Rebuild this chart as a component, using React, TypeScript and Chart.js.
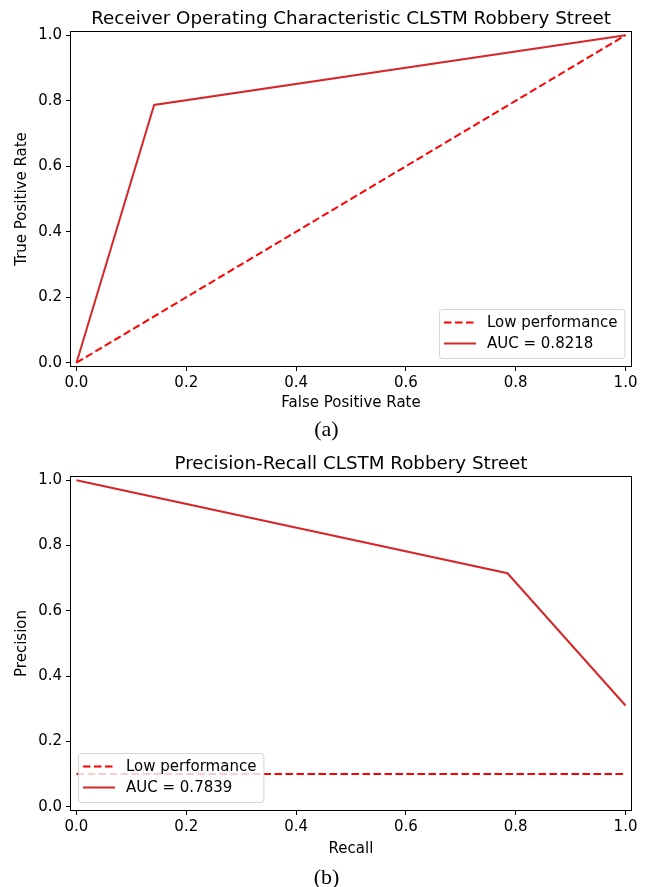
import React, { useEffect, useRef } from 'react';
import { Chart, registerables } from 'chart.js';

Chart.register(...registerables);

// ---- data ----
const tickValues = [0, 0.2, 0.4, 0.6, 0.8, 1.0];
const tickLabels = ['0.0', '0.2', '0.4', '0.6', '0.8', '1.0'];

const rocTitle = 'Receiver Operating Characteristic CLSTM Robbery Street';
const rocXLabel = 'False Positive Rate';
const rocYLabel = 'True Positive Rate';
const rocBaseX = [0, 1];
const rocBaseY = [0, 1];
const rocFpr = [0, 0.1414, 1];
const rocTpr = [0, 0.787, 1];
const rocBaseLabel = 'Low performance';
const rocCurveLabel = 'AUC = 0.8218';

const prTitle = 'Precision-Recall CLSTM Robbery Street';
const prXLabel = 'Recall';
const prYLabel = 'Precision';
const prBaseX = [0, 1];
const prBaseY = [0.1, 0.1];
const prRecall = [0, 0.785, 1];
const prPrecision = [1, 0.715, 0.31];
const prBaseLabel = 'Low performance';
const prCurveLabel = 'AUC = 0.7839';

const FONT = '"DejaVu Sans", sans-serif';
const DASH_RED = '#ff0000';
const CURVE_RED = '#d62728';
const LABEL_SIZE = 15;
const TITLE_SIZE = 18.3;

const pts = (xs: number[], ys: number[]) => xs.map((x, i) => ({ x, y: ys[i] }));

const mplPlugin = {
  id: 'mpl',
  afterDatasetsDraw(chart: any, _args: any, opts: any) {
    const { ctx, chartArea } = chart;
    ctx.save();
    // frame
    ctx.strokeStyle = '#000';
    ctx.lineWidth = 1;
    ctx.setLineDash([]);
    ctx.strokeRect(
      Math.round(chartArea.left) - 0.5,
      Math.round(chartArea.top) - 0.5,
      Math.round(chartArea.right) - Math.round(chartArea.left) + 1,
      Math.round(chartArea.bottom) - Math.round(chartArea.top) + 1
    );
    // legend
    ctx.font = `${LABEL_SIZE}px ${FONT}`;
    const ds = chart.data.datasets;
    const tw = Math.max(...ds.map((d: any) => ctx.measureText(d.label).width));
    const w = 48 + tw + 7;
    const h = 49;
    const inset = 7;
    const x = Math.round(opts.corner === 'lr' ? chartArea.right - inset - w : chartArea.left + inset);
    const y = Math.round(chartArea.bottom - inset - h) - 1;
    ctx.beginPath();
    if ((ctx as any).roundRect) (ctx as any).roundRect(x + 0.5, y + 0.5, w, h, 3);
    else ctx.rect(x + 0.5, y + 0.5, w, h);
    ctx.fillStyle = 'rgba(255,255,255,0.8)';
    ctx.fill();
    ctx.strokeStyle = 'rgba(204,204,204,0.8)';
    ctx.stroke();
    ds.forEach((d: any, i: number) => {
      const ry = y + 13.5 + i * 21;
      ctx.beginPath();
      ctx.strokeStyle = d.borderColor;
      ctx.lineWidth = d.borderWidth;
      ctx.setLineDash(d.borderDash || []);
      ctx.moveTo(x + 5, ry);
      ctx.lineTo(x + 37, ry);
      ctx.stroke();
      ctx.setLineDash([]);
      ctx.fillStyle = '#000';
      ctx.textBaseline = 'middle';
      ctx.textAlign = 'left';
      ctx.fillText(d.label, x + 48, ry + 0.5);
    });
    ctx.restore();
  },
};

type Spec = {
  title: string;
  xLabel: string;
  yLabel: string;
  baseX: number[];
  baseY: number[];
  curveX: number[];
  curveY: number[];
  baseLabel: string;
  curveLabel: string;
  corner: 'lr' | 'll';
  xAxisHeight: number;
  xTitlePad: number;
};

function makeChart(canvas: HTMLCanvasElement, s: Spec) {
  const setTicks = (scale: any) => {
    scale.ticks = tickValues.map((v) => ({ value: v }));
  };
  const tickFmt = (v: any) => {
    const i = tickValues.findIndex((t) => Math.abs(t - v) < 1e-9);
    return i >= 0 ? tickLabels[i] : '';
  };
  const gridOpts = {
    display: true,
    drawOnChartArea: false,
    drawTicks: true,
    tickLength: 5,
    tickWidth: 1,
    tickColor: '#000',
    lineWidth: 1,
  };
  return new Chart(canvas, {
    type: 'line',
    data: {
      datasets: [
        {
          label: s.baseLabel,
          data: pts(s.baseX, s.baseY),
          borderColor: DASH_RED,
          borderWidth: 2,
          borderDash: [7.5, 3.5],
          pointRadius: 0,
          tension: 0,
          fill: false,
        },
        {
          label: s.curveLabel,
          data: pts(s.curveX, s.curveY),
          borderColor: CURVE_RED,
          borderWidth: 2,
          pointRadius: 0,
          tension: 0,
          fill: false,
        },
      ],
    },
    options: {
      animation: false,
      responsive: false,
      devicePixelRatio: 1,
      layout: { padding: { left: 0, right: 20, top: 0, bottom: 0 } },
      plugins: {
        legend: { display: false },
        tooltip: { enabled: false },
        title: {
          display: true,
          text: s.title,
          fullSize: false,
          color: '#000',
          font: { family: FONT, size: TITLE_SIZE, weight: 'normal', lineHeight: 1.2 },
          padding: { top: 8.2, bottom: 1.8 },
        },
        mpl: { corner: s.corner },
      } as any,
      scales: {
        x: {
          type: 'linear',
          min: -0.01,
          max: 1.01,
          afterBuildTicks: setTicks,
          afterFit: (scale: any) => {
            scale.height = s.xAxisHeight;
          },
          border: { display: false },
          grid: gridOpts,
          ticks: {
            autoSkip: false,
            maxRotation: 0,
            padding: 3,
            color: '#000',
            font: { family: FONT, size: LABEL_SIZE },
            callback: tickFmt,
          },
          title: {
            display: true,
            text: s.xLabel,
            color: '#000',
            font: { family: FONT, size: LABEL_SIZE, lineHeight: 1.2 },
            padding: { top: 0, bottom: s.xTitlePad },
          },
        },
        y: {
          type: 'linear',
          min: -0.01,
          max: 1.01,
          afterBuildTicks: setTicks,
          afterFit: (scale: any) => {
            scale.width = 71;
          },
          border: { display: false },
          grid: gridOpts,
          ticks: {
            autoSkip: false,
            padding: 4,
            color: '#000',
            font: { family: FONT, size: LABEL_SIZE },
            callback: tickFmt,
          },
          title: {
            display: true,
            text: s.yLabel,
            color: '#000',
            font: { family: FONT, size: LABEL_SIZE, lineHeight: 1.2 },
            padding: { top: 13, bottom: 0 },
          },
        },
      },
    } as any,
    plugins: [mplPlugin],
  });
}

function Panel({ spec, top }: { spec: Spec; top: number }) {
  const ref = useRef<HTMLCanvasElement>(null);
  useEffect(() => {
    if (!ref.current) return;
    const c = makeChart(ref.current, spec);
    return () => c.destroy();
  }, []);
  return (
    <canvas
      ref={ref}
      width={651}
      height={420}
      style={{ position: 'absolute', left: 0, top, width: 651, height: 420 }}
    />
  );
}

const rocSpec: Spec = {
  title: rocTitle,
  xLabel: rocXLabel,
  yLabel: rocYLabel,
  baseX: rocBaseX,
  baseY: rocBaseY,
  curveX: rocFpr,
  curveY: rocTpr,
  baseLabel: rocBaseLabel,
  curveLabel: rocCurveLabel,
  corner: 'lr',
  xAxisHeight: 54,
  xTitlePad: 8,
};

const prSpec: Spec = {
  title: prTitle,
  xLabel: prXLabel,
  yLabel: prYLabel,
  baseX: prBaseX,
  baseY: prBaseY,
  curveX: prRecall,
  curveY: prPrecision,
  baseLabel: prBaseLabel,
  curveLabel: prCurveLabel,
  corner: 'll',
  xAxisHeight: 55,
  xTitlePad: 7,
};

const captionStyle: React.CSSProperties = {
  position: 'absolute',
  left: 0,
  width: 651,
  textAlign: 'center',
  fontFamily: '"Liberation Serif", "Times New Roman", serif',
  fontSize: 22,
  lineHeight: '26px',
  color: '#000',
};

export default function App() {
  return (
    <div
      style={{
        position: 'fixed',
        left: 0,
        top: 0,
        width: 651,
        height: 887,
        background: '#fff',
        overflow: 'hidden',
      }}
    >
      <Panel spec={rocSpec} top={0} />
      <div style={{ ...captionStyle, top: 416, left: 1 }}>(a)</div>
      <Panel spec={prSpec} top={445} />
      <div style={{ ...captionStyle, top: 864, left: 1 }}>(b)</div>
    </div>
  );
}
